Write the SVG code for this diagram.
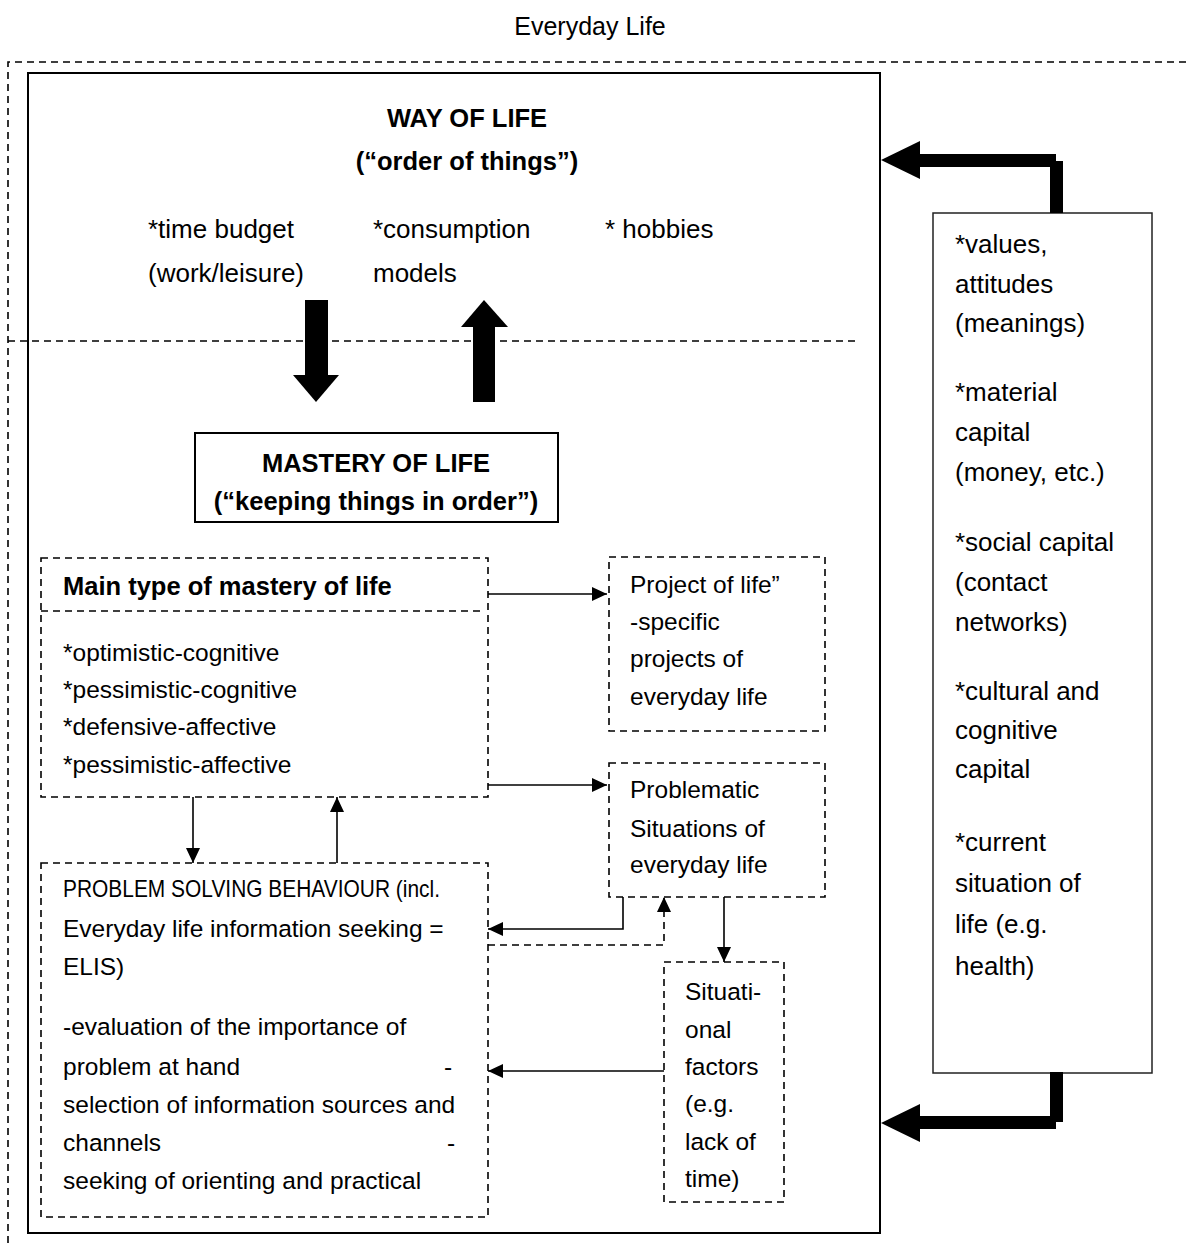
<svg xmlns="http://www.w3.org/2000/svg" width="1187" height="1243" viewBox="0 0 1187 1243">
  <style>
    text { font-family: "Liberation Sans", Arial, sans-serif; fill: #000; }
    .t { font-size: 24.5px; }
    .tl { font-size: 26px; }
    .b { font-size: 25.5px; font-weight: bold; }
    .mid { text-anchor: middle; }
    .dash { fill: none; stroke: #000; stroke-width: 1.6; stroke-dasharray: 7 5; }
    .solid { fill: #fff; stroke: #000; stroke-width: 2; }
    .thin { fill: #fff; stroke: #222; stroke-width: 1.5; }
    .conn { fill: none; stroke: #000; stroke-width: 1.6; }
    .connd { fill: none; stroke: #000; stroke-width: 1.6; stroke-dasharray: 7 5; }
    .fat { fill: #000; stroke: none; }
  </style>
  <defs>
    <marker id="ah" markerUnits="userSpaceOnUse" markerWidth="15" markerHeight="14" refX="15" refY="7" orient="auto">
      <path d="M0,0 L15,7 L0,14 Z" fill="#000"/>
    </marker>
  </defs>

  <rect width="1187" height="1243" fill="#fff"/>

  <!-- everyday life frame -->
  <g id="everyday-life">
    <text class="t mid" x="590" y="35" style="font-size:25px">Everyday Life</text>
    <path class="dash" d="M8,1243 V62 H1187"/>
  </g>

  <!-- way of life -->
  <g id="way-of-life">
    <rect class="solid" x="28" y="73" width="852" height="1160"/>
    <text class="b mid" x="467" y="127">WAY OF LIFE</text>
    <text class="b mid" x="467" y="170">(“order of things”)</text>
    <text class="tl" x="148" y="238">*time budget</text>
    <text class="tl" x="148" y="282">(work/leisure)</text>
    <text class="tl" x="373" y="238">*consumption</text>
    <text class="tl" x="373" y="282">models</text>
    <text class="tl" x="605" y="238">* hobbies</text>
    <path class="dash" d="M8,341 H856"/>
  </g>

  <!-- mastery of life -->
  <g id="mastery-of-life">
    <rect class="solid" x="195" y="433" width="363" height="89"/>
    <text class="b mid" x="376" y="472">MASTERY OF LIFE</text>
    <text class="b mid" x="376" y="510">(“keeping things in order”)</text>
  </g>

  <!-- main type of mastery -->
  <g id="main-type">
    <rect class="dash" x="41" y="558" width="447" height="239"/>
    <path class="dash" d="M41,611 H484"/>
    <text class="b" x="63" y="595">Main type of mastery of life</text>
    <text class="t" x="63" y="661">*optimistic-cognitive</text>
    <text class="t" x="63" y="698">*pessimistic-cognitive</text>
    <text class="t" x="63" y="735">*defensive-affective</text>
    <text class="t" x="63" y="773">*pessimistic-affective</text>
  </g>

  <!-- project of life -->
  <g id="project-of-life">
    <rect class="dash" x="609" y="557" width="216" height="174"/>
    <text class="t" x="630" y="593">Project of life”</text>
    <text class="t" x="630" y="630">-specific</text>
    <text class="t" x="630" y="667">projects of</text>
    <text class="t" x="630" y="705">everyday life</text>
  </g>

  <!-- problematic situations -->
  <g id="problematic-situations">
    <rect class="dash" x="609" y="763" width="216" height="134"/>
    <text class="t" x="630" y="798">Problematic</text>
    <text class="t" x="630" y="837">Situations of</text>
    <text class="t" x="630" y="873">everyday life</text>
  </g>

  <!-- situational factors -->
  <g id="situational-factors">
    <rect class="dash" x="664" y="962" width="120" height="240"/>
    <text class="t" x="685" y="1000">Situati-</text>
    <text class="t" x="685" y="1038">onal</text>
    <text class="t" x="685" y="1075">factors</text>
    <text class="t" x="685" y="1112">(e.g.</text>
    <text class="t" x="685" y="1150">lack of</text>
    <text class="t" x="685" y="1187">time)</text>
  </g>

  <!-- problem solving behaviour -->
  <g id="problem-solving">
    <rect class="dash" x="41" y="863" width="447" height="354"/>
    <text class="t" x="63" y="897" textLength="377" lengthAdjust="spacingAndGlyphs">PROBLEM SOLVING BEHAVIOUR (incl.</text>
    <text class="t" x="63" y="937">Everyday life information seeking =</text>
    <text class="t" x="63" y="975">ELIS)</text>
    <text class="t" x="63" y="1035">-evaluation of the importance of</text>
    <text class="t" x="63" y="1075">problem at hand</text>
    <text class="t" x="444" y="1075">-</text>
    <text class="t" x="63" y="1113">selection of information sources and</text>
    <text class="t" x="63" y="1151">channels</text>
    <text class="t" x="447" y="1151">-</text>
    <text class="t" x="63" y="1189">seeking of orienting and practical</text>
  </g>

  <!-- resources -->
  <g id="resources">
    <rect class="thin" x="933" y="213" width="219" height="860"/>
    <text class="tl" x="955" y="253">*values,</text>
    <text class="tl" x="955" y="293">attitudes</text>
    <text class="tl" x="955" y="332">(meanings)</text>
    <text class="tl" x="955" y="401">*material</text>
    <text class="tl" x="955" y="441">capital</text>
    <text class="tl" x="955" y="481">(money, etc.)</text>
    <text class="tl" x="955" y="551">*social capital</text>
    <text class="tl" x="955" y="591">(contact</text>
    <text class="tl" x="955" y="631">networks)</text>
    <text class="tl" x="955" y="700">*cultural and</text>
    <text class="tl" x="955" y="739">cognitive</text>
    <text class="tl" x="955" y="778">capital</text>
    <text class="tl" x="955" y="851">*current</text>
    <text class="tl" x="955" y="892">situation of</text>
    <text class="tl" x="955" y="933">life (e.g.</text>
    <text class="tl" x="955" y="975">health)</text>
  </g>

  <!-- connectors -->
  <g id="connectors">
    <!-- block arrows between way of life and mastery of life -->
    <rect class="fat" x="305" y="300" width="23" height="75"/>
    <path class="fat" d="M293,375 L339,375 L316,402 Z"/>
    <rect class="fat" x="473" y="327" width="22" height="75"/>
    <path class="fat" d="M461,327 L508,327 L484,300 Z"/>

    <!-- block arrows from resources into way of life -->
    <rect class="fat" x="1050" y="161" width="13" height="52"/>
    <rect class="fat" x="920" y="154" width="136" height="13"/>
    <path class="fat" d="M881,160 L920,141 L920,179 Z"/>
    <rect class="fat" x="1050" y="1072" width="13" height="50"/>
    <rect class="fat" x="920" y="1116" width="136" height="13"/>
    <path class="fat" d="M881,1123 L920,1104 L920,1142 Z"/>

    <!-- thin arrows -->
    <path class="conn" d="M488,594 H607" marker-end="url(#ah)"/>
    <path class="conn" d="M488,785 H607" marker-end="url(#ah)"/>
    <path class="conn" d="M193,797 V863" marker-end="url(#ah)"/>
    <path class="conn" d="M337,863 V797" marker-end="url(#ah)"/>
    <path class="conn" d="M623,897 V929 H488" marker-end="url(#ah)"/>
    <path class="connd" d="M488,945 H664 V897" marker-end="url(#ah)"/>
    <path class="conn" d="M724,897 V962" marker-end="url(#ah)"/>
    <path class="conn" d="M664,1071 H488" marker-end="url(#ah)"/>
  </g>
</svg>
